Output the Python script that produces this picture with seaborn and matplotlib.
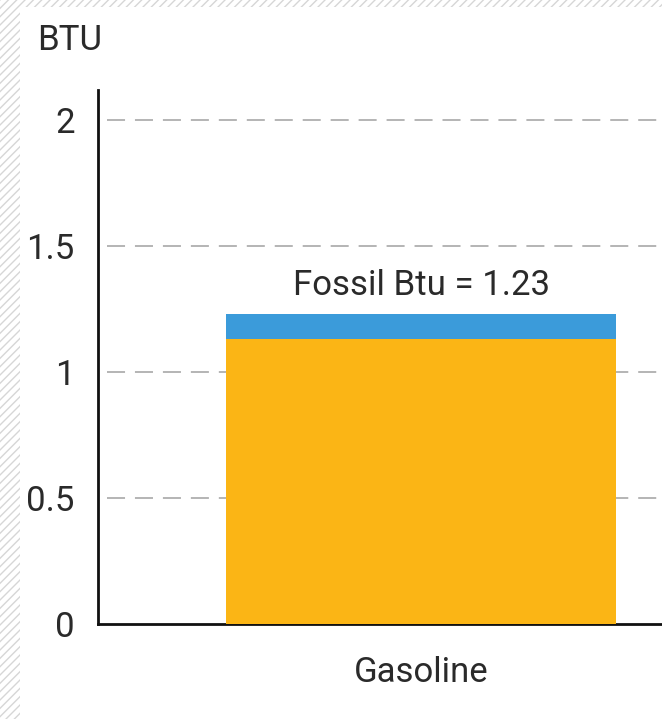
import matplotlib
matplotlib.use("Agg")
import matplotlib.pyplot as plt
import matplotlib.patches as mpatches
import seaborn as sns
import pandas as pd

# Energy content of one Btu of delivered gasoline, split by source
categories = ["Gasoline"]
base_btu = [1.13]       # lower (orange) segment
upper_btu = [0.10]      # upper (blue) segment
totals = [1.23]         # fossil Btu total, stated in the annotation
y_ticks = [0, 0.5, 1, 1.5, 2]
y_tick_labels = ["0", "0.5", "1", "1.5", "2"]

orange = "#FBB515"
blue = "#3B9BDA"
text_color = "#2a2a2a"

sns.set_theme(style="white")
plt.rcParams["font.family"] = ["Roboto", "DejaVu Sans"]

fig = plt.figure(figsize=(6.62, 7.19), dpi=100)

# light diagonal hatch framing the left and top edges
for rect in [(0, 0, 20 / 662, 1), (0, 1 - 7 / 719, 1, 7 / 719)]:
    fig.patches.append(mpatches.Rectangle(
        rect[:2], rect[2], rect[3], transform=fig.transFigure,
        facecolor="white", edgecolor="#d6d6d6", hatch="////", linewidth=0,
        zorder=0))

ax = fig.add_axes([98 / 662, 1 - 624 / 719, 564 / 662, (624 - 90) / 719])
ax.set_facecolor("none")

df_total = pd.DataFrame({"fuel": categories, "btu": totals})
df_base = pd.DataFrame({"fuel": categories, "btu": base_btu})

sns.barplot(data=df_total, x="fuel", y="btu", color=blue, saturation=1,
            width=0.8, ax=ax, zorder=2, linewidth=0)
sns.barplot(data=df_base, x="fuel", y="btu", color=orange, saturation=1,
            width=0.8, ax=ax, zorder=3, linewidth=0)

ax.set_xlim(-0.664, 0.495)
ax.set_ylim(0, 2.12)
ax.set_yticks(y_ticks)
ax.set_yticklabels(y_tick_labels, fontsize=25, color=text_color)
ax.tick_params(axis="y", length=0, pad=17)
ax.tick_params(axis="x", length=0, pad=23, labelsize=25, labelcolor=text_color)
ax.set_xlabel("")
ax.set_ylabel("")

for y in y_ticks[1:]:
    ax.plot([-0.646, 0.495], [y, y], color="#a0a0a0", linewidth=1.1,
            dashes=(11.8, 6.5), zorder=1)

for side in ["top", "right"]:
    ax.spines[side].set_visible(False)
for side in ["left", "bottom"]:
    ax.spines[side].set_color("#111111")
    ax.spines[side].set_linewidth(2)

ax.text(0, totals[0] + 0.075, f"Fossil Btu = {totals[0]:.2f}", ha="center",
        va="baseline", fontsize=25, color=text_color)

fig.text(37 / 662, 1 - 40 / 719, "BTU", ha="left", va="center",
         fontsize=25, color=text_color)

fig.savefig("out.png", dpi=100)
